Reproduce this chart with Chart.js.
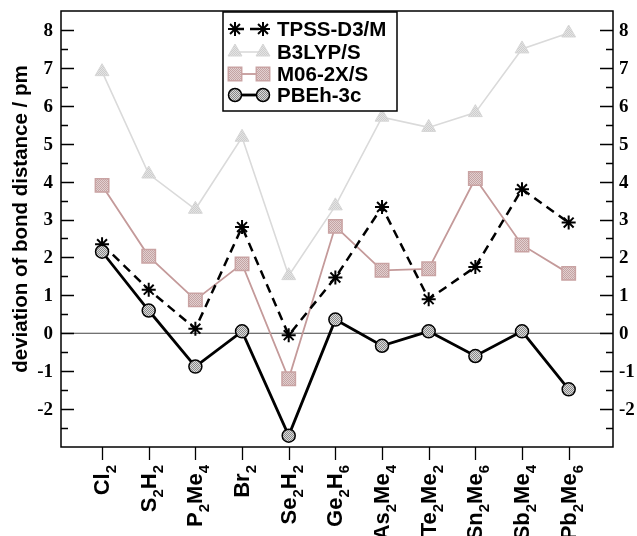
<!DOCTYPE html>
<html>
<head>
<meta charset="utf-8">
<script src="https://cdn.jsdelivr.net/npm/chart.js@4.4.1/dist/chart.umd.min.js"></script>
<style>
  html, body { margin: 0; padding: 0; background: #fff; }
  #wrap { width: 637px; height: 536px; }
</style>
</head>
<body>
<div id="wrap"><canvas id="grafico" width="637" height="536"></canvas></div>
<script>
// categorias (moléculas) - base + subscritos
let moleculas = [
    [["Cl", ""], ["2", "s"]],
    [["S", ""], ["2", "s"], ["H", ""], ["2", "s"]],
    [["P", ""], ["2", "s"], ["Me", ""], ["4", "s"]],
    [["Br", ""], ["2", "s"]],
    [["Se", ""], ["2", "s"], ["H", ""], ["2", "s"]],
    [["Ge", ""], ["2", "s"], ["H", ""], ["6", "s"]],
    [["As", ""], ["2", "s"], ["Me", ""], ["4", "s"]],
    [["Te", ""], ["2", "s"], ["Me", ""], ["2", "s"]],
    [["Sn", ""], ["2", "s"], ["Me", ""], ["6", "s"]],
    [["Sb", ""], ["2", "s"], ["Me", ""], ["4", "s"]],
    [["Pb", ""], ["2", "s"], ["Me", ""], ["6", "s"]]
];

// desvios (pm)
let tpss  = [2.35, 1.15, 0.12, 2.8, -0.05, 1.47, 3.33, 0.9, 1.75, 3.8, 2.92];
let b3lyp = [6.9, 4.2, 3.27, 5.17, 1.52, 3.36, 5.7, 5.43, 5.82, 7.5, 7.92];
let m06   = [3.9, 2.03, 0.88, 1.83, -1.2, 2.82, 1.66, 1.7, 4.08, 2.33, 1.58];
let pbeh  = [2.15, 0.6, -0.88, 0.05, -2.7, 0.36, -0.33, 0.05, -0.6, 0.05, -1.48];

let ticksY = [-2, -1, 0, 1, 2, 3, 4, 5, 6, 7, 8];
let tituloY = "deviation of bond distance / pm";

function pontos(valores) {
    return valores.map((v, i) => ({ x: i, y: v }));
}

// textura xadrez pequena, parecida com o preenchimento dos símbolos
function textura(c1, c2) {
    let c = document.createElement("canvas");
    c.width = 2; c.height = 2;
    let g = c.getContext("2d");
    g.fillStyle = c1; g.fillRect(0, 0, 2, 2);
    g.fillStyle = c2; g.fillRect(0, 0, 1, 1); g.fillRect(1, 1, 1, 1);
    return g.createPattern(c, "repeat");
}

let ctx = document.getElementById("grafico").getContext("2d");

let datasets = [
    {
        label: "TPSS-D3/M", data: pontos(tpss), order: 2,
        borderColor: "#000", borderWidth: 2.5, borderDash: [9, 6],
        pointStyle: "star", pointRadius: 7, pointBorderWidth: 2,
        pointBorderColor: "#000", pointBackgroundColor: "#000"
    },
    {
        label: "B3LYP/S", data: pontos(b3lyp), order: 4,
        borderColor: "#dadada", borderWidth: 1.6,
        pointStyle: "triangle", pointRadius: 8, pointBorderWidth: 1,
        pointBorderColor: "#d6d6d6", pointBackgroundColor: textura("#e4e4e4", "#cdcdcd")
    },
    {
        label: "M06-2X/S", data: pontos(m06), order: 3,
        borderColor: "#c49a9a", borderWidth: 1.8,
        pointStyle: "rect", pointRadius: 9.5, pointBorderWidth: 1.5,
        pointBorderColor: "#c9a3a3", pointBackgroundColor: textura("#e2d0d0", "#c4a4a4")
    },
    {
        label: "PBEh-3c", data: pontos(pbeh), order: 1,
        borderColor: "#000", borderWidth: 2.8,
        pointStyle: "circle", pointRadius: 6.5, pointBorderWidth: 1.5,
        pointBorderColor: "#000", pointBackgroundColor: textura("#dcdcdc", "#888888")
    }
];

// eixos, moldura, linha do zero e legenda desenhados à mão
let eixos = {
    id: "eixos",
    beforeDatasetsDraw(chart) {
        let c = chart.ctx, a = chart.chartArea, y = chart.scales.y;
        let y0 = y.getPixelForValue(0);
        c.save();
        c.strokeStyle = "#444";
        c.lineWidth = 1;
        c.beginPath(); c.moveTo(a.left, y0); c.lineTo(a.right, y0); c.stroke();
        c.restore();
    },
    afterDraw(chart) {
        let c = chart.ctx, a = chart.chartArea, x = chart.scales.x, y = chart.scales.y;
        c.save();
        c.strokeStyle = "#000";
        c.lineWidth = 1.5;
        c.strokeRect(a.left, a.top, a.right - a.left, a.bottom - a.top);

        // ticks do eixo y (para dentro, nos dois lados)
        c.lineWidth = 1.3;
        for (let v = -2.5; v <= 8.01; v += 0.5) {
            let py = Math.round(y.getPixelForValue(v)) + 0.5;
            let len = Number.isInteger(v) ? 13 : 7;
            c.beginPath();
            c.moveTo(a.left, py); c.lineTo(a.left + len, py);
            c.moveTo(a.right, py); c.lineTo(a.right - len, py);
            c.stroke();
        }
        c.fillStyle = "#000";
        c.font = "bold 19px 'Liberation Serif'";
        c.textBaseline = "middle";
        ticksY.forEach(v => {
            let py = y.getPixelForValue(v);
            c.textAlign = "right";
            c.fillText(String(v), a.left - 8, py + 1);
            c.textAlign = "left";
            c.fillText(String(v), a.right + 6, py + 1);
        });

        // ticks do eixo x (para fora) e rótulos girados com subscritos
        moleculas.forEach((partes, i) => {
            let px = Math.round(x.getPixelForValue(i)) + 0.5;
            c.beginPath(); c.moveTo(px, a.bottom); c.lineTo(px, a.bottom + 13); c.stroke();

            c.save();
            c.translate(px, a.bottom + 18);
            c.rotate(-Math.PI / 2);
            let largura = 0;
            partes.forEach(p => {
                c.font = p[1] === "s" ? "bold 15px 'Liberation Sans'" : "bold 22px 'Liberation Sans'";
                largura += c.measureText(p[0]).width;
            });
            let cx = -largura;
            c.textAlign = "left";
            c.textBaseline = "alphabetic";
            partes.forEach(p => {
                if (p[1] === "s") {
                    c.font = "bold 15px 'Liberation Sans'";
                    c.fillText(p[0], cx, 13);
                } else {
                    c.font = "bold 22px 'Liberation Sans'";
                    c.fillText(p[0], cx, 6);
                }
                cx += c.measureText(p[0]).width;
            });
            c.restore();
        });

        // título do eixo y
        c.save();
        c.translate(21, (a.top + a.bottom) / 2 - 10);
        c.rotate(-Math.PI / 2);
        c.font = "bold 20.5px 'Liberation Sans'";
        c.textAlign = "center";
        c.textBaseline = "middle";
        c.fillText(tituloY, 0, 0);
        c.restore();

        // legenda
        let lx = 223, ly = 12, lw = 174, lh = 99;
        c.fillStyle = "#fff";
        c.fillRect(lx, ly, lw, lh);
        c.strokeStyle = "#000";
        c.lineWidth = 1.5;
        c.strokeRect(lx, ly, lw, lh);
        let linhas = [29, 52, 74, 95];
        let ordem = [0, 1, 2, 3];
        ordem.forEach((k, j) => {
            let ds = chart.data.datasets[k];
            let yy = linhas[j];
            let x1 = 235, x2 = 263;
            c.save();
            c.strokeStyle = ds.borderColor;
            c.lineWidth = ds.borderWidth;
            c.setLineDash(ds.borderDash || []);
            c.beginPath(); c.moveTo(x1, yy); c.lineTo(x2, yy); c.stroke();
            c.setLineDash([]);
            c.fillStyle = ds.pointBackgroundColor;
            c.strokeStyle = ds.pointBorderColor;
            c.lineWidth = ds.pointBorderWidth;
            let opt = { pointStyle: ds.pointStyle, radius: ds.pointRadius, borderWidth: ds.pointBorderWidth, rotation: 0 };
            Chart.helpers.drawPoint(c, opt, x1, yy);
            Chart.helpers.drawPoint(c, opt, x2, yy);
            c.restore();
            c.fillStyle = "#000";
            c.font = "bold 20.5px 'Liberation Sans'";
            c.textAlign = "left";
            c.textBaseline = "middle";
            c.fillText(ds.label, 277, yy + 1);
        });
        c.restore();
    }
};

let grafico = new Chart(ctx, {
    type: "line",
    data: { datasets: datasets },
    options: {
        responsive: false,
        animation: false,
        devicePixelRatio: 1,
        layout: { padding: { left: 61, top: 11, right: 24, bottom: 89 } },
        elements: { line: { tension: 0, fill: false } },
        plugins: { legend: { display: false }, tooltip: { enabled: false } },
        scales: {
            x: { type: "linear", min: -0.88, max: 10.95, display: false },
            y: { min: -3, max: 8.5, display: false }
        }
    },
    plugins: [eixos]
});
</script>
</body>
</html>
